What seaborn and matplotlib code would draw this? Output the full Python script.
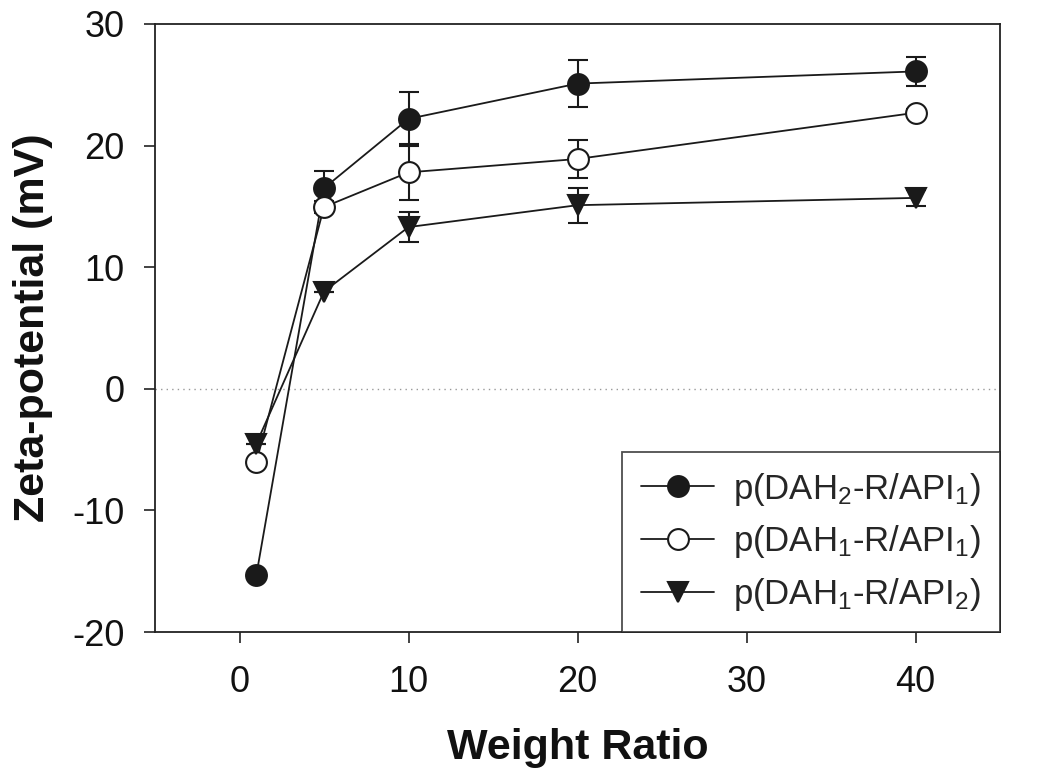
import matplotlib
matplotlib.use("Agg")
import matplotlib.pyplot as plt
import seaborn as sns
import numpy as np
import pandas as pd
from matplotlib.lines import Line2D

# ---- data ----
weight_ratio = [1, 5, 10, 20, 40]
series_names = ["p(DAH$_2$-R/API$_1$)", "p(DAH$_1$-R/API$_1$)", "p(DAH$_1$-R/API$_2$)"]
zeta_dah2_api1 = [-15.3, 16.5, 22.2, 25.1, 26.1]
err_dah2_api1 = [0.0, 1.4, 2.2, 1.9, 1.2]
zeta_dah1_api1 = [-6.0, 14.95, 17.8, 18.9, 22.7]
err_dah1_api1 = [0.0, 0.5, 2.3, 1.6, 0.3]
zeta_dah1_api2 = [-4.5, 8.0, 13.3, 15.1, 15.7]
err_dah1_api2 = [0.0, 0.0, 1.2, 1.45, 0.65]
x_ticks = [0, 10, 20, 30, 40]
y_ticks = [-20, -10, 0, 10, 20, 30]

sns.set_theme(style="white")
plt.rcParams["font.family"] = ["Liberation Sans", "DejaVu Sans"]
plt.rcParams["mathtext.fontset"] = "custom"
plt.rcParams["mathtext.rm"] = "Liberation Sans"
plt.rcParams["mathtext.it"] = "Liberation Sans"
plt.rcParams["axes.unicode_minus"] = False

values = [zeta_dah2_api1, zeta_dah1_api1, zeta_dah1_api2]
errors = [err_dah2_api1, err_dah1_api1, err_dah1_api2]
df = pd.DataFrame({
    "x": weight_ratio * 3,
    "y": zeta_dah2_api1 + zeta_dah1_api1 + zeta_dah1_api2,
    "series": [s for s in series_names for _ in weight_ratio],
})

fig = plt.figure(figsize=(10.5, 7.81), dpi=100)
ax = fig.add_axes([155 / 1050, 1 - 632 / 781, 845 / 1050, 608 / 781])

dark = "#1a1a1a"
markers = {series_names[0]: "o", series_names[1]: "o", series_names[2]: "v"}
faces = [dark, "white", dark]

ax.axhline(0, color="#999999", lw=1.0, ls=(0, (1, 3)), zorder=1)

for name, v, e in zip(series_names, values, errors):
    ax.errorbar(weight_ratio, v, yerr=e, fmt="none", ecolor=dark, elinewidth=1.5,
                capsize=7, capthick=1.5, zorder=2)

sns.lineplot(data=df, x="x", y="y", hue="series", style="series",
             palette={n: dark for n in series_names}, markers=markers,
             dashes=False, ax=ax, lw=1.3, markersize=15, legend=False, zorder=3)

for line, fc in zip(ax.lines[-3:], faces):
    line.set_markerfacecolor(fc)
    line.set_markeredgecolor(dark)
    line.set_markeredgewidth(1.5)
    line.set_zorder(3)

ax.set_xlim(-5, 45)
ax.set_ylim(-20, 30)
ax.set_xticks(x_ticks)
ax.set_yticks(y_ticks)
ax.tick_params(axis="both", direction="out", length=8, width=1.2, color="#222222",
               labelsize=26, bottom=True, left=True, labelcolor="#111111")
ax.tick_params(axis="x", pad=16)
ax.tick_params(axis="y", pad=14)
for sp in ax.spines.values():
    sp.set_color("#222222")
    sp.set_linewidth(1.3)
ax.set_xlabel("Weight Ratio", fontsize=31, fontweight="bold", labelpad=20, color="#111111")
ax.set_ylabel("Zeta-potential (mV)", fontsize=31, fontweight="bold", labelpad=14, color="#111111")

handles = [Line2D([], [], color=dark, lw=1.3, marker=m, markersize=15,
                  markerfacecolor=fc, markeredgecolor=dark, markeredgewidth=1.5)
           for m, fc in zip(["o", "o", "v"], faces)]
leg = ax.legend(handles, series_names, loc="lower right", fontsize=25, frameon=True,
                fancybox=False, edgecolor="#222222", borderaxespad=0, handlelength=2.1,
                labelspacing=0.45, borderpad=0.55, handletextpad=0.55)
leg.get_frame().set_linewidth(1.3)

fig.savefig("out.png", dpi=100)
